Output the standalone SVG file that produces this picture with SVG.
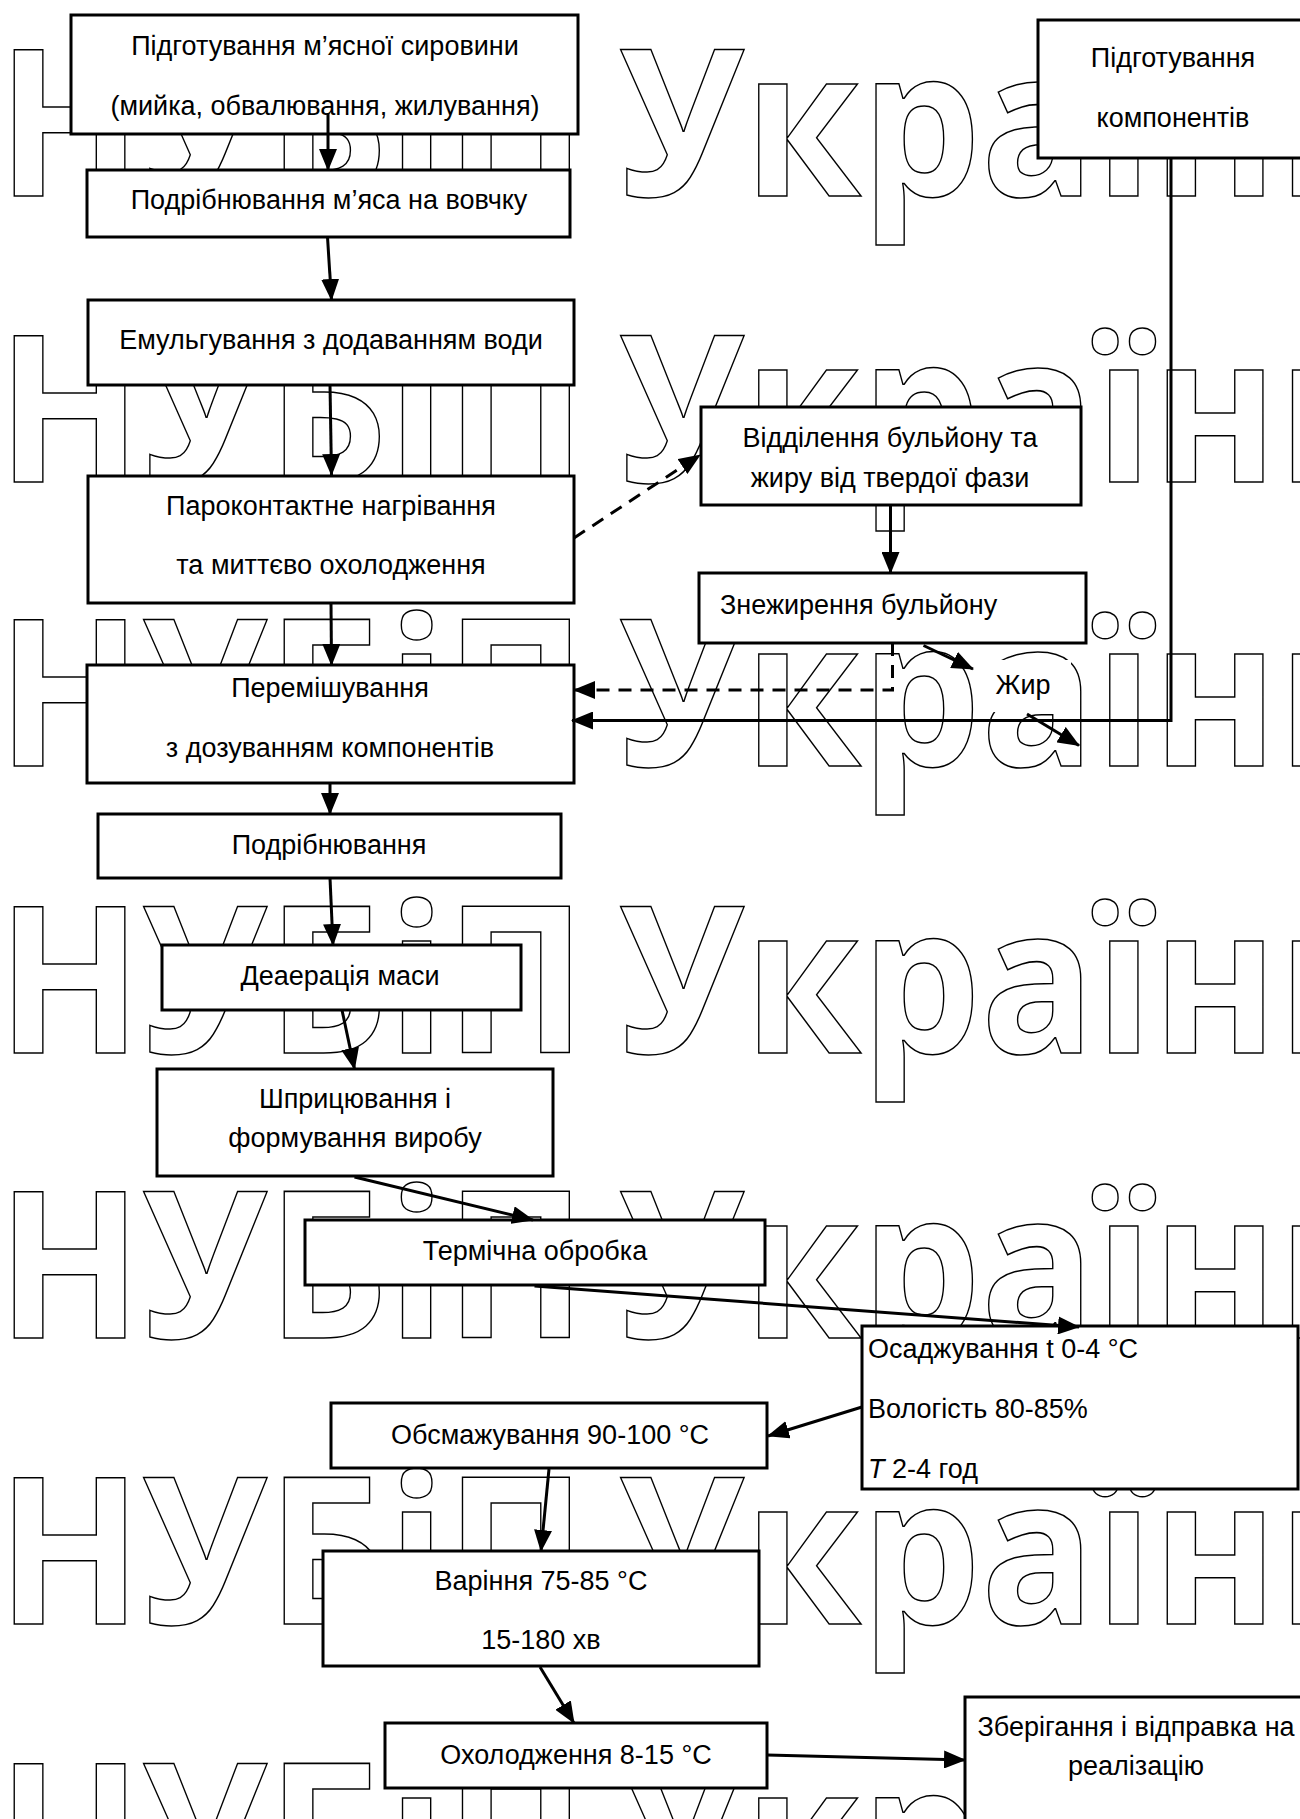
<svg xmlns="http://www.w3.org/2000/svg" width="1300" height="1819" viewBox="0 0 1300 1819">
<defs>
<marker id="ah" markerUnits="userSpaceOnUse" markerWidth="22" markerHeight="18" refX="21" refY="9" orient="auto"><path d="M0,0 L22,9 L0,18 z" fill="#000"/></marker>
</defs>
<style>
.wm{font-family:"Open Sans","Noto Sans",sans-serif;font-weight:700;font-size:205px;fill:none;stroke:#000;stroke-width:1.5;word-spacing:-18px}
.box{fill:#fff;stroke:#000;stroke-width:3}
.t{font-family:"Liberation Sans",Arial,sans-serif;font-size:27px;fill:#000}
.m{text-anchor:middle}
.c{fill:none;stroke:#000;stroke-width:3;marker-end:url(#ah)}
.d{stroke-dasharray:13 9}
</style>
<rect width="1300" height="1819" fill="#fff"/>
<g id="watermark" transform="scale(0.922,1)">
<text class="wm" x="-3" y="196">НУБіП України</text>
<text class="wm" x="-3" y="482">НУБіП України</text>
<text class="wm" x="-3" y="766">НУБіП України</text>
<text class="wm" x="-3" y="1053">НУБіП України</text>
<text class="wm" x="-3" y="1338">НУБіП України</text>
<text class="wm" x="-3" y="1624">НУБіП України</text>
<text class="wm" x="-3" y="1910">НУБіП України</text>
</g>
<g id="n1"><rect class="box" x="71" y="15" width="507" height="119"/><text class="t m" x="325" y="55">Підготування м’ясної  сировини</text><text class="t m" x="325" y="115">(мийка, обвалювання, жилування)</text></g>
<g id="n2"><rect class="box" x="87" y="170" width="483" height="67"/><text class="t m" x="329" y="209">Подрібнювання м’яса на вовчку</text></g>
<g id="n3"><rect class="box" x="88" y="300" width="486" height="85"/><text class="t m" x="331" y="349">Емульгування з додаванням води</text></g>
<g id="n4"><rect class="box" x="88" y="476" width="486" height="127"/><text class="t m" x="331" y="515">Пароконтактне нагрівання</text><text class="t m" x="331" y="574">та миттєво охолодження</text></g>
<g id="n5"><rect class="box" x="87" y="665" width="487" height="118"/><text class="t m" x="330" y="697">Перемішування</text><text class="t m" x="330" y="757">з дозуванням компонентів</text></g>
<g id="n6"><rect class="box" x="98" y="814" width="463" height="64"/><text class="t m" x="329" y="854">Подрібнювання</text></g>
<g id="n7"><rect class="box" x="162" y="945" width="359" height="65"/><text class="t m" x="340" y="985">Деаерація маси</text></g>
<g id="n8"><rect class="box" x="157" y="1069" width="396" height="107"/><text class="t m" x="355" y="1108">Шприцювання і</text><text class="t m" x="355" y="1147">формування виробу</text></g>
<g id="n9"><rect class="box" x="305" y="1220" width="460" height="65"/><text class="t m" x="535" y="1260">Термічна обробка</text></g>
<g id="n10"><rect class="box" x="862" y="1326" width="436" height="163"/><text class="t" x="868" y="1358">Осаджування t 0-4 °C</text><text class="t" x="868" y="1418">Вологість 80-85%</text><text class="t" x="868" y="1478"><tspan font-style="italic">T</tspan> 2-4 год</text></g>
<g id="n11"><rect class="box" x="331" y="1403" width="436" height="65"/><text class="t m" x="550" y="1444">Обсмажування 90-100 °C</text></g>
<g id="n12"><rect class="box" x="323" y="1551" width="436" height="115"/><text class="t m" x="541" y="1590">Варіння 75-85 °C</text><text class="t m" x="541" y="1649">15-180 хв</text></g>
<g id="n13"><rect class="box" x="385" y="1723" width="382" height="65"/><text class="t m" x="576" y="1764">Охолодження 8-15 °C</text></g>
<g id="n14"><rect class="box" x="965" y="1697" width="345" height="140"/><text class="t m" x="1136" y="1736">Зберігання і відправка на</text><text class="t m" x="1136" y="1775">реалізацію</text></g>
<g id="n15"><rect class="box" x="1038" y="20" width="272" height="138"/><text class="t m" x="1173" y="67">Підготування</text><text class="t m" x="1173" y="127">компонентів</text></g>
<g id="n16"><rect class="box" x="701" y="407" width="380" height="98"/><text class="t m" x="890" y="447">Відділення бульйону та</text><text class="t m" x="890" y="487">жиру від твердої фази</text></g>
<g id="n17"><rect class="box" x="699" y="573" width="387" height="70"/><text class="t" x="720" y="614">Знежирення бульйону</text></g>
<g id="n18"><rect x="975" y="660" width="96" height="52" fill="#fff"/><text class="t m" x="1023" y="694">Жир</text></g>
<g id="connectors">
<path class="c" d="M328,113 L328,170"/>
<path class="c" d="M327.5,237 L331.5,300"/>
<path class="c" d="M330,385 L331.5,475"/>
<path class="c d" d="M574,538 L700,455"/>
<path class="c" d="M331,603 L331.5,665"/>
<path class="c" d="M890.5,505 L890.5,573"/>
<path class="c d" d="M892.5,643 L892.5,690 L574,690"/>
<path class="c" d="M923.5,645.5 L973,669"/>
<path class="c" d="M1027,714 L1079,745.5"/>
<path class="c" d="M1171,158 L1171,720.5 L572,720.5"/>
<path class="c" d="M330,783 L330,814"/>
<path class="c" d="M330,878 L333,945"/>
<path class="c" d="M342,1010 L354.5,1069"/>
<path class="c" d="M354.5,1177 L533,1220"/>
<path class="c" d="M534.5,1286 L1079,1327"/>
<path class="c" d="M862,1407 L768,1436"/>
<path class="c" d="M549,1469 L541,1551"/>
<path class="c" d="M540,1667 L574,1723"/>
<path class="c" d="M767,1755 L965,1760"/>
</g>
</svg>
